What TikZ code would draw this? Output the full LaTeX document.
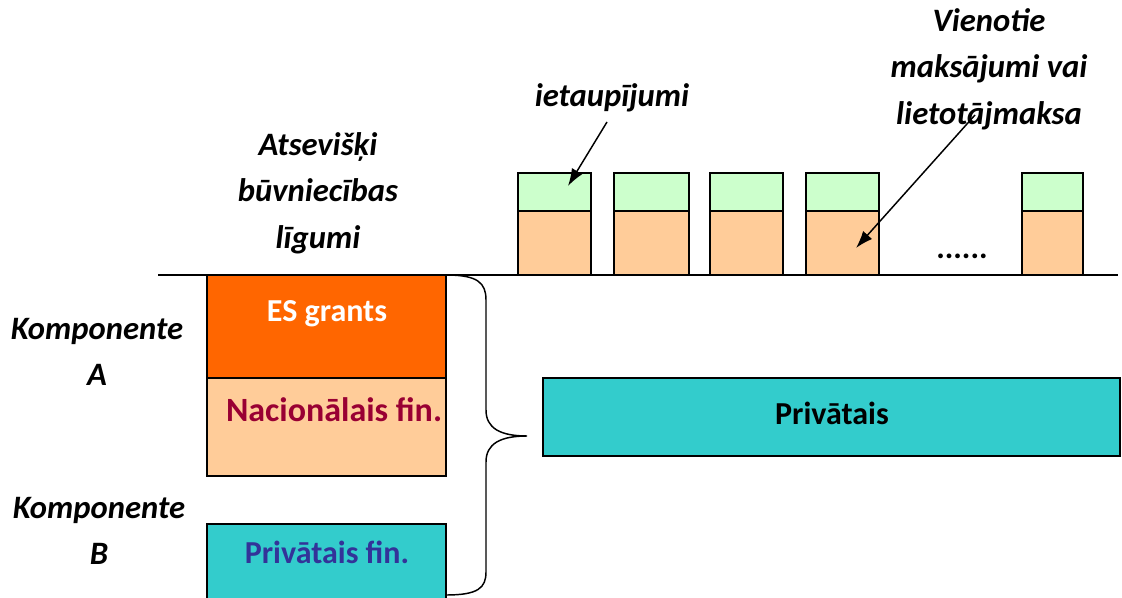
\documentclass[tikz,border=0pt]{standalone}
\usepackage{fontspec}
\setmainfont{Carlito}
\usetikzlibrary{positioning,calc,arrows.meta}
\definecolor{esorange}{HTML}{FF6600}
\definecolor{peach}{HTML}{FFCC99}
\definecolor{savegreen}{HTML}{CCFFCC}
\definecolor{privteal}{HTML}{33CCCC}
\definecolor{natred}{HTML}{990033}
\definecolor{privblue}{HTML}{333399}
\tikzset{
  bar/.style={draw=black, line width=1.3pt, inner sep=0pt, outer sep=0pt},
  boxtext/.style={font=\fontsize{24}{35}\selectfont\bfseries, inner sep=0pt},
  sidetext/.style={font=\fontsize{24.5}{35}\selectfont\bfseries\itshape, align=center, inner sep=0pt},
  pointer/.style={-{Latex[length=13pt,width=9pt]}, line width=1.1pt}
}
\begin{document}
\begin{tikzpicture}[x=0.75pt,y=-0.75pt]
\useasboundingbox (0,0) rectangle (1122,598);
% Drawing ground line
\coordinate (gl) at (158,275);
\coordinate (gr) at (1118,275);
\draw[line width=1.1pt] (gl) -- (gr);
% Left column: component A and B
\node[bar, fill=esorange, minimum width=179.25pt, minimum height=77.25pt] (es) at (326.5,326.5) {};
\node[bar, fill=peach, minimum width=179.25pt, minimum height=73.5pt] (nat) at (326.5,427) {};
\node[bar, fill=privteal, minimum width=179.25pt, minimum height=63pt] (pfin) at (326.5,566) {};
\node[boxtext, white] (estxt) at (327,314) {ES grants};
\node[boxtext, natred, font=\fontsize{25.5}{35}\selectfont\bfseries] (nattxt) at (334,410) {Nacionālais fin.};
\node[boxtext, privblue] (pfintxt) at (327,552) {Privātais fin.};
% Side labels
\node[sidetext] (kompa) at (97,352) {Komponente\\A};
\node[sidetext] (kompb) at (99,531) {Komponente\\B};
\node[sidetext] (ligumi) at (318,193) {Atsevišķi\\būvniecības\\līgumi};
% Brace
\draw[line width=1.1pt] (es.north east) .. controls (478,275) and (486,283) .. (486,300)
  -- (486,410) .. controls (486,428) and (500,436) .. (527,436)
  .. controls (500,436) and (486,444) .. (486,462)
  -- (486,572) .. controls (486,588) and (478,595) .. (446,595);
% Private financing box
\node[bar, fill=privteal, minimum width=432.75pt, minimum height=58.5pt] (priv) at (831.5,417) {};
\node[boxtext] (privtxt) at (832,413) {Privātais};
% Stacks of contracts
\foreach \name/\xl/\xr in {c1/518/591, c2/614/689, c3/710/783, c4/806/879, c5/1022/1083} {
  \node[bar, fill=savegreen, minimum width={(\xr-\xl)*0.75pt}, minimum height=28.5pt]
    (\name top) at ({(\xl+\xr)/2},192) {};
  \node[bar, fill=peach, minimum width={(\xr-\xl)*0.75pt}, minimum height=48pt]
    (\name bot) at ({(\xl+\xr)/2},243) {};
}
\node[boxtext] (dots) at (962,256) {......};
% Labels with pointers
\node[sidetext] (savings) at (612,98) {ietaupījumi};
\node[sidetext] (payments) at (989,69) {Vienotie\\maksājumi vai\\lietotājmaksa};
\coordinate (savstart) at (607,122);
\coordinate (paystart) at (975,115);
\coordinate (savend) at (568,186);
\coordinate (payend) at (856,248);
\draw[pointer] (savstart) -- (savend);
\draw[pointer] (paystart) -- (payend);
\end{tikzpicture}
\end{document}
